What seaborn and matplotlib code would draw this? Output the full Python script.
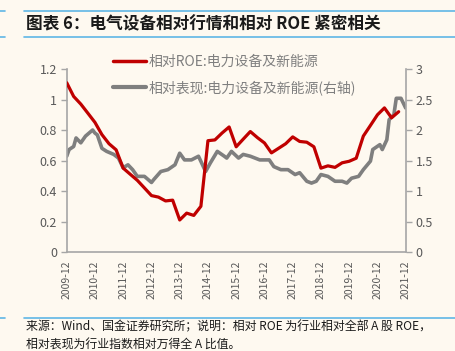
import pandas as pd
import matplotlib
matplotlib.use("Agg")
import matplotlib.pyplot as plt
import seaborn as sns
from matplotlib.lines import Line2D

# --- data ---
ROE_DATES = ["2009-12", "2010-03", "2010-06", "2010-09", "2010-12", "2011-03", "2011-06",
             "2011-09", "2011-12", "2012-03", "2012-06", "2012-09", "2012-12", "2013-03",
             "2013-06", "2013-09", "2013-12", "2014-03", "2014-06", "2014-09", "2014-12",
             "2015-03", "2015-06", "2015-09", "2015-12", "2016-03", "2016-06", "2016-09",
             "2016-12", "2017-03", "2017-06", "2017-09", "2017-12", "2018-03", "2018-06",
             "2018-09", "2018-12", "2019-03", "2019-06", "2019-09", "2019-12", "2020-03",
             "2020-06", "2020-09", "2020-12", "2021-03", "2021-06", "2021-09"]
ROE_VALUES = [1.11, 1.02, 0.97, 0.91, 0.85, 0.77, 0.71, 0.67, 0.55, 0.51, 0.47, 0.42,
              0.37, 0.36, 0.335, 0.34, 0.21, 0.255, 0.24, 0.30, 0.73, 0.735, 0.78, 0.82,
              0.69, 0.74, 0.79, 0.75, 0.715, 0.65, 0.68, 0.71, 0.755, 0.725, 0.72, 0.69,
              0.55, 0.565, 0.555, 0.585, 0.595, 0.615, 0.76, 0.83, 0.90, 0.945, 0.88, 0.92]

PERF_DATES = ["2009-12", "2010-01", "2010-03", "2010-04", "2010-06", "2010-08", "2010-11",
              "2010-12", "2011-01", "2011-03", "2011-05", "2011-08", "2011-10", "2011-12",
              "2012-02", "2012-04", "2012-06", "2012-09", "2012-12", "2013-01", "2013-04",
              "2013-07", "2013-10", "2013-12", "2014-02", "2014-05", "2014-08", "2014-11",
              "2015-01", "2015-04", "2015-07", "2015-08", "2015-10", "2016-01", "2016-03",
              "2016-06", "2016-10", "2017-02", "2017-04", "2017-07", "2017-10", "2018-01",
              "2018-03", "2018-06", "2018-08", "2018-10", "2018-12", "2019-03", "2019-06",
              "2019-09", "2019-11", "2020-01", "2020-04", "2020-06", "2020-09", "2020-10",
              "2021-01", "2021-02", "2021-04", "2021-05", "2021-07", "2021-08", "2021-10",
              "2021-12"]
PERF_VALUES = [1.57, 1.68, 1.73, 1.87, 1.79, 1.90, 2.00, 1.95, 1.92, 1.70, 1.65, 1.60,
               1.54, 1.38, 1.43, 1.35, 1.24, 1.24, 1.14, 1.19, 1.32, 1.35, 1.43, 1.62,
               1.51, 1.51, 1.57, 1.32, 1.46, 1.65, 1.57, 1.54, 1.65, 1.54, 1.60, 1.57,
               1.51, 1.51, 1.40, 1.35, 1.35, 1.27, 1.30, 1.16, 1.13, 1.16, 1.27, 1.24,
               1.16, 1.16, 1.13, 1.21, 1.24, 1.35, 1.49, 1.68, 1.76, 1.68, 1.84, 2.17,
               2.25, 2.52, 2.52, 2.36]

TICK_DATES = [f"{y}-12" for y in range(2009, 2022)]
LEFT_TICKS = [0, 0.2, 0.4, 0.6, 0.8, 1, 1.2]
RIGHT_TICKS = [0, 0.5, 1, 1.5, 2, 2.5, 3]

TITLE = "图表 6：电气设备相对行情和相对 ROE 紧密相关"
LABEL_ROE = "相对ROE:电力设备及新能源"
LABEL_PERF = "相对表现:电力设备及新能源(右轴)"
NOTE1 = "来源：Wind、国金证券研究所；说明：相对 ROE 为行业相对全部 A 股 ROE，"
NOTE2 = "相对表现为行业指数相对万得全 A 比值。"

BG = "#FEF9F0"
RED = "#C00000"
GREY = "#7F7F7F"
AXIS = "#A6A6A6"
BLUE = "#5FB6E6"
TXT = "#595959"

sns.set_style("white")
plt.rcParams['font.family'] = ['Noto Sans CJK SC', 'DejaVu Sans']

roe = pd.DataFrame({"date": pd.to_datetime(ROE_DATES), "value": ROE_VALUES})
perf = pd.DataFrame({"date": pd.to_datetime(PERF_DATES), "value": PERF_VALUES})

fig = plt.figure(figsize=(4.56, 3.51), dpi=100, facecolor=BG)
ax = fig.add_axes([0.1463, 0.282, 0.7434, 0.5214])
ax.set_facecolor(BG)
ax2 = ax.twinx()

sns.lineplot(data=roe, x="date", y="value", color=RED, linewidth=2.3, ax=ax, zorder=3)
sns.lineplot(data=perf, x="date", y="value", color=GREY, linewidth=2.6, ax=ax2, zorder=2)

# red series drawn on top of the grey one
ax.set_zorder(ax2.get_zorder() + 1)
ax.patch.set_visible(False)
ax2.patch.set_facecolor(BG)

ax.set_ylim(0, 1.2)
ax2.set_ylim(0, 3)
ax.set_yticks(LEFT_TICKS)
ax.set_yticklabels([f"{t:g}" for t in LEFT_TICKS])
ax2.set_yticks(RIGHT_TICKS)
ax2.set_yticklabels([f"{t:g}" for t in RIGHT_TICKS])

ticks = pd.to_datetime(TICK_DATES)
ax.set_xlim(ticks[0], ticks[-1])
ax.set_xticks(ticks)
ax.set_xticklabels(TICK_DATES, rotation=90)
ax.set_xlabel("")
ax.set_ylabel("")
ax2.set_ylabel("")

for a in (ax, ax2):
    for s in a.spines.values():
        s.set_visible(False)
ax.spines['left'].set_visible(True)
ax.spines['bottom'].set_visible(True)
ax2.spines['right'].set_visible(True)
for s in (ax.spines['left'], ax.spines['bottom'], ax2.spines['right']):
    s.set_color(AXIS)
    s.set_linewidth(1.2)

ax.tick_params(axis='y', direction='out', length=4, width=1, color=AXIS,
               labelsize=9, labelcolor=TXT, pad=3)
ax.tick_params(axis='x', direction='inout', length=6, width=1, color=AXIS,
               labelsize=7.5, labelcolor=TXT, pad=3)
ax2.tick_params(axis='y', direction='out', length=4, width=1, color=AXIS,
                labelsize=9, labelcolor=TXT, pad=3)

handles = [Line2D([0], [0], color=RED, linewidth=2.5),
           Line2D([0], [0], color=GREY, linewidth=3)]
leg = fig.legend(handles, [LABEL_ROE, LABEL_PERF], loc='upper left',
                 bbox_to_anchor=(0.235, 0.86), frameon=False, fontsize=10,
                 handlelength=2.4, handletextpad=0.2, labelspacing=0.8,
                 borderaxespad=0, labelcolor=GREY)

fig.text(26 / 456, 1 - 24 / 351, TITLE, fontsize=12, fontweight='bold',
         fontstyle='italic', color='#1a1a1a', va='center', ha='left')
fig.text(26 / 456, 1 - 327 / 351, NOTE1, fontsize=8.6, color='#1a1a1a',
         va='center', ha='left')
fig.text(26 / 456, 1 - 345 / 351, NOTE2, fontsize=8.6, color='#1a1a1a',
         va='center', ha='left')

for y in (11, 37, 318):
    yy = 1 - y / 351
    fig.add_artist(Line2D([24 / 456, 1], [yy, yy], color=BLUE, linewidth=1.2))
    fig.add_artist(Line2D([0, 5 / 456], [yy, yy], color=BLUE, linewidth=1.2))

fig.savefig("out.png", dpi=100, facecolor=BG)
